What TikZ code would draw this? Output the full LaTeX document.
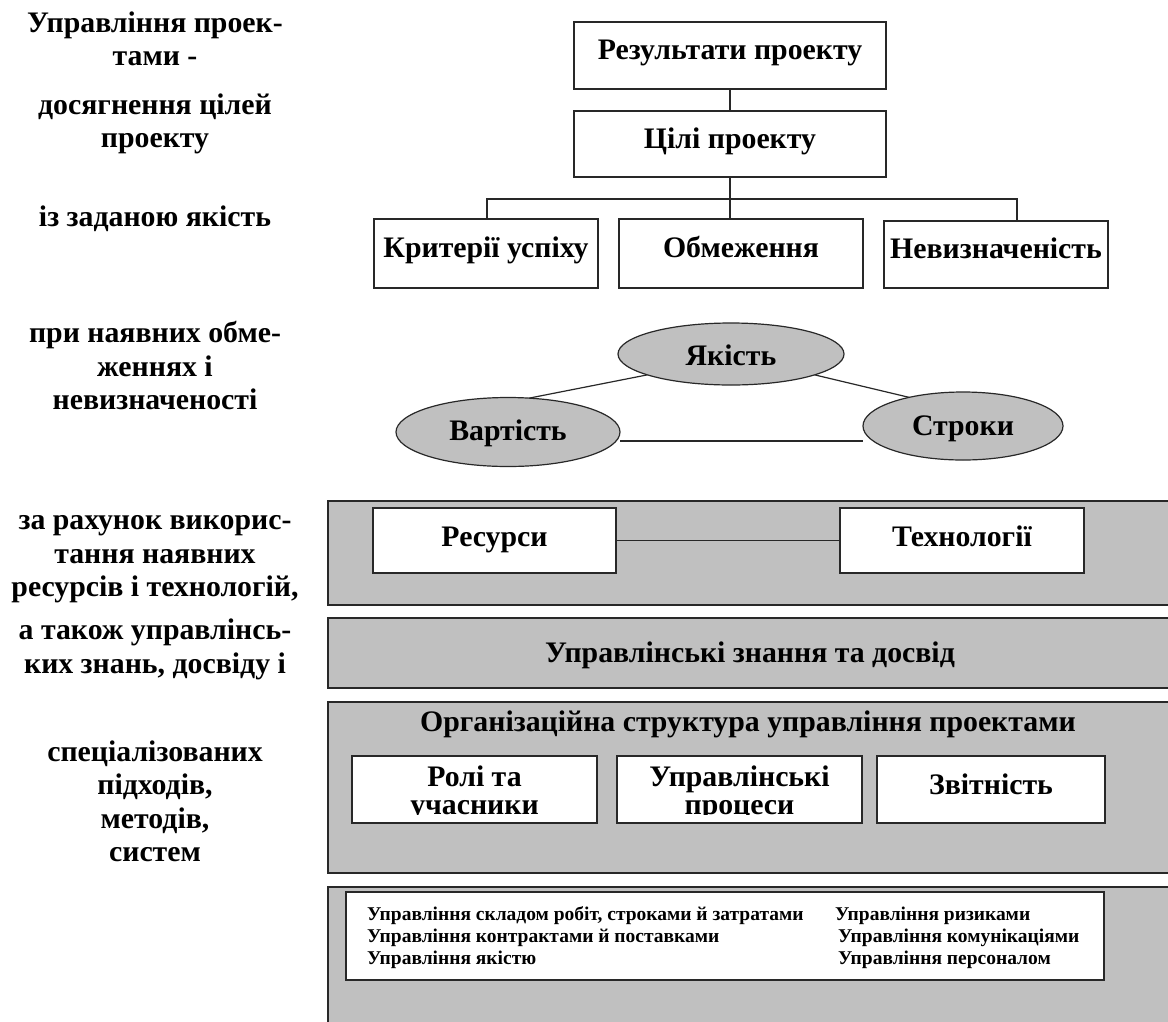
\documentclass[tikz,border=0pt]{standalone}
\usepackage{fontspec}
\usepackage{graphicx}
\setmainfont{Liberation Serif}
\usetikzlibrary{shapes.geometric,backgrounds}
\definecolor{bandgray}{RGB}{192,192,192}
\definecolor{edge}{RGB}{40,40,40}
% bold serif text, set at 26pt and widened to the size used in the figure
\newcommand{\bt}[1]{\scalebox{1.146}{\fontsize{26}{29.25}\selectfont\bfseries\begin{tabular}{@{}c@{}}#1\end{tabular}}}
\newcommand{\st}[1]{\scalebox{1.146}{\fontsize{17}{20}\selectfont\bfseries #1}}
\begin{document}
\begin{tikzpicture}[x=1pt,y=-1pt,
  every node/.style={inner sep=0pt,outer sep=0pt},
  capt/.style={text height=20pt,text depth=#1},
  capt/.default=0pt,
  basetxt/.style={anchor=base},
  smalltxt/.style={anchor=base west},
  whitebox/.style={draw=edge,line width=1.4pt,fill=white,rectangle},
  band/.style={draw=edge,line width=1.4pt,fill=bandgray,rectangle,anchor=north west},
  oval/.style={draw=edge,line width=1.2pt,fill=bandgray,ellipse},
  link/.style={draw=edge,line width=1.2pt}]
\clip (0,0) rectangle (1168,1021);
\begin{pgfonlayer}{background}
\fill[white] (0,0) rectangle (1168,1021);
\end{pgfonlayer}

% left column of explanatory text
\node (l1) at (155,42.5) {\bt{Управління проек-\\тами -}};
\node (l2) at (155,124.5) {\bt{досягнення цілей\\проекту}};
\node (l3) at (155,220) {\bt{із заданою якість}};
\node (l4) at (155,369.5) {\bt{при наявних обме-\\женнях і\\невизначеності}};
\node (l5) at (155,556.5) {\bt{за рахунок викорис-\\тання наявних\\ресурсів і технологій,}};
\node (l6) at (155,650) {\bt{а також управлінсь-\\ких знань, досвіду і}};
\node (l7) at (155,805) {\bt{спеціалізованих\\підходів,\\методів,\\систем}};

% goal tree
\node[whitebox,capt=11pt,minimum width=312pt,minimum height=67pt] (res) at (730,55.5) {\bt{Результати проекту}};
\node[whitebox,capt=10pt,minimum width=312pt,minimum height=66pt] (goals) at (730,144) {\bt{Цілі проекту}};
\node[whitebox,capt=12pt,minimum width=224pt,minimum height=69pt] (crit) at (486,253.5) {\bt{Критерії успіху}};
\node[whitebox,capt=12pt,minimum width=244pt,minimum height=69pt] (limits) at (741,253.5) {\bt{Обмеження}};
\node[whitebox,capt=12pt,minimum width=224pt,minimum height=67pt] (uncert) at (996,254.5) {\bt{Невизначеність}};
\coordinate (busL) at (487,199);
\coordinate (busR) at (1017,199);
\draw[link] (res) -- (goals);
\draw[link] (goals.south) -- (goals.south |- limits.north);
\draw[link] (busL |- crit.north) -- (busL) -- (busR) -- (busR |- uncert.north);

% triangle of constraints
\node[oval,capt,text height=24pt,minimum width=226pt,minimum height=62pt] (quality) at (731,354) {\bt{Якість}};
\node[oval,capt=2pt,minimum width=224pt,minimum height=69pt] (cost) at (508,432) {\bt{Вартість}};
\node[oval,capt,minimum width=200pt,minimum height=68pt] (terms) at (963,426) {\bt{Строки}};
\begin{pgfonlayer}{background}
\draw[link] (quality.194) -- (cost.58);
\draw[link] (quality.346) -- (terms.152);
\draw[link] ([yshift=-9pt]cost.east) -- ([yshift=-9pt]cost.east -| terms.west);
\end{pgfonlayer}

% resources and technologies
\node[band,minimum width=860pt,minimum height=104pt] (band1) at (328,501) {};
\node[whitebox,capt=8pt,minimum width=243pt,minimum height=65pt] (resources) at (494.5,540.5) {\bt{Ресурси}};
\node[whitebox,capt=8pt,minimum width=244pt,minimum height=65pt] (tech) at (962,540.5) {\bt{Технології}};
\draw[link] (resources) -- (tech);

% management knowledge
\node[band,minimum width=860pt,minimum height=70pt] (band2) at (328,618) {};
\node[capt] (knowledge) at (750,653) {\bt{Управлінські знання та досвід}};

% organisational structure
\node[band,minimum width=860pt,minimum height=171pt] (band3) at (328,702) {};
\node[capt] (orgtitle) at (748,722) {\bt{Організаційна структура управління проектами}};
\node[whitebox,minimum width=245pt,minimum height=67pt] (roles) at (474.5,789.5) {};
\node[whitebox,minimum width=245pt,minimum height=67pt] (procs) at (739.5,789.5) {};
\node[whitebox,capt=9pt,minimum width=228pt,minimum height=67pt] (report) at (991,789.5) {\bt{Звітність}};
\begin{scope}
\clip ([yshift=8.5pt]roles.south west) rectangle (procs.north east);
\node[basetxt] (rolesA) at (474.5,787) {\bt{Ролі та}};
\node[basetxt] (rolesB) at (474.5,815) {\bt{учасники}};
\node[basetxt] (procsA) at (739.5,787) {\bt{Управлінські}};
\node[basetxt] (procsB) at (739.5,815) {\bt{процеси}};
\end{scope}

% management areas
\node[band,minimum width=860pt,minimum height=150pt] (band4) at (328,887) {};
\node[whitebox,minimum width=758pt,minimum height=88pt] (areas) at (725,936) {};
\node[smalltxt] (a1) at (367,920) {\st{Управління складом робіт, строками й затратами}};
\node[smalltxt] (a2) at (367,942) {\st{Управління контрактами й поставками}};
\node[smalltxt] (a3) at (367,964) {\st{Управління якістю}};
\node[smalltxt] (a4) at (835,920) {\st{Управління ризиками}};
\node[smalltxt] (a5) at (838,942) {\st{Управління комунікаціями}};
\node[smalltxt] (a6) at (838,964) {\st{Управління персоналом}};
\end{tikzpicture}
\end{document}
